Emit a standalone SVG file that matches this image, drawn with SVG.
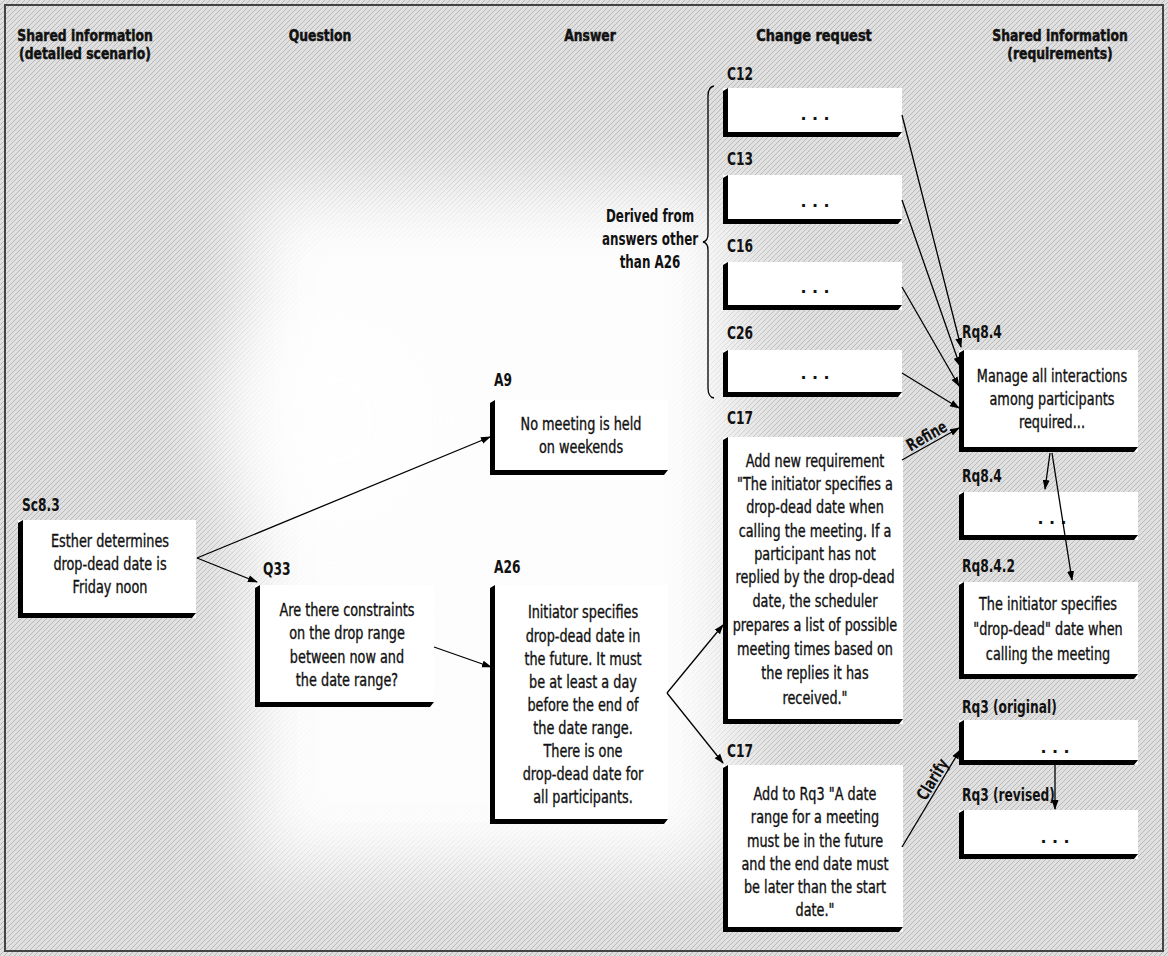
<svg xmlns="http://www.w3.org/2000/svg" width="1168" height="956" viewBox="0 0 1168 956">
<defs>
<pattern id="tex" width="5" height="5" patternUnits="userSpaceOnUse">
<rect width="5" height="5" fill="#e0e0e0"/>
<path d="M0,5 L5,0" stroke="#b4b4b4" stroke-width="0.9"/>
</pattern>
<filter id="blur" x="-50%" y="-50%" width="200%" height="200%"><feGaussianBlur stdDeviation="35"/></filter>
<marker id="ah" markerWidth="10" markerHeight="8" refX="9" refY="4" orient="auto" markerUnits="userSpaceOnUse"><path d="M0,0.5 L10,4 L0,7.5 Z" fill="#000"/></marker>
<style>
.t{font-family:"DejaVu Sans Condensed","DejaVu Sans","Liberation Sans",sans-serif;font-stretch:condensed;font-size:17px;fill:#111;stroke:#111;stroke-width:0.35;text-anchor:middle}
.lb{font-family:"DejaVu Sans Condensed","DejaVu Sans","Liberation Sans",sans-serif;font-stretch:condensed;font-weight:bold;font-size:17px;fill:#111}
.hd{font-family:"DejaVu Sans Condensed","DejaVu Sans","Liberation Sans",sans-serif;font-stretch:condensed;font-weight:bold;font-size:16px;fill:#111;stroke:#111;stroke-width:0.5;text-anchor:middle}
.dots{font-family:"Liberation Sans","DejaVu Sans",sans-serif;font-weight:bold;font-size:20px;fill:#111;text-anchor:middle;letter-spacing:6px}
.bx{fill:#fff}
.bd{fill:#000}
.cn{fill:none;stroke:#000;stroke-width:1.3}
</style>
</defs>
<rect width="1168" height="956" fill="url(#tex)"/>
<rect x="250" y="190" width="480" height="680" fill="#fff" opacity="0.95" filter="url(#blur)"/>
<ellipse cx="330" cy="420" rx="120" ry="120" fill="#fff" opacity="0.7" filter="url(#blur)"/>
<rect x="5" y="5" width="1158" height="946" fill="none" stroke="#444" stroke-width="2"/>

<g id="headers">
<text class="hd" transform="translate(85,41) scale(0.86,1)">Shared information</text>
<text class="hd" transform="translate(85,59) scale(0.86,1)">(detailed scenario)</text>
<text class="hd" transform="translate(320,41) scale(0.86,1)">Question</text>
<text class="hd" transform="translate(590,41) scale(0.86,1)">Answer</text>
<text class="hd" transform="translate(814,41) scale(0.9,1)">Change request</text>
<text class="hd" transform="translate(1060,41) scale(0.86,1)">Shared information</text>
<text class="hd" transform="translate(1060,59) scale(0.86,1)">(requirements)</text>
</g>

<g id="Sc8.3">
<rect class="bx" x="18" y="520" width="178" height="98"/>
<path class="bd" d="M18,523 L23,520 L23,613 L196,613 L192,618 L18,618 Z"/>
<text class="lb" transform="translate(22,511) scale(0.8,1)">Sc8.3</text>
<g transform="translate(110,0) scale(0.84,1)">
<text class="t" x="0" y="547">Esther determines</text>
<text class="t" x="0" y="570">drop-dead date is</text>
<text class="t" x="0" y="593">Friday noon</text>
</g>
</g>

<g id="Q33">
<rect class="bx" x="255" y="585" width="179" height="122"/>
<path class="bd" d="M255,588 L260,585 L260,702 L434,702 L430,707 L255,707 Z"/>
<text class="lb" transform="translate(263,575) scale(0.8,1)">Q33</text>
<g transform="translate(347,0) scale(0.84,1)">
<text class="t" x="0" y="616">Are there constraints</text>
<text class="t" x="0" y="639">on the drop range</text>
<text class="t" x="0" y="663">between now and</text>
<text class="t" x="0" y="686">the date range?</text>
</g>
</g>

<g id="A9">
<rect class="bx" x="490" y="400" width="178" height="75"/>
<path class="bd" d="M490,403 L495,400 L495,470 L668,470 L664,475 L490,475 Z"/>
<text class="lb" transform="translate(494,386) scale(0.8,1)">A9</text>
<g transform="translate(581,0) scale(0.84,1)">
<text class="t" x="0" y="430">No meeting is held</text>
<text class="t" x="0" y="453">on weekends</text>
</g>
</g>

<g id="A26">
<rect class="bx" x="490" y="585" width="178" height="239"/>
<path class="bd" d="M490,588 L495,585 L495,819 L668,819 L664,824 L490,824 Z"/>
<text class="lb" transform="translate(494,573) scale(0.8,1)">A26</text>
<g transform="translate(583,0) scale(0.84,1)">
<text class="t" x="0" y="618">Initiator specifies</text>
<text class="t" x="0" y="642">drop-dead date in</text>
<text class="t" x="0" y="665">the future. It must</text>
<text class="t" x="0" y="688">be at least a day</text>
<text class="t" x="0" y="711">before the end of</text>
<text class="t" x="0" y="734">the date range.</text>
<text class="t" x="0" y="757">There is one</text>
<text class="t" x="0" y="780">drop-dead date for</text>
<text class="t" x="0" y="803">all participants.</text>
</g>
</g>

<g id="C12">
<rect class="bx" x="723" y="88" width="179" height="49"/>
<path class="bd" d="M723,91 L728,88 L728,132 L902,132 L898,137 L723,137 Z"/>
<text class="lb" transform="translate(727,80) scale(0.8,1)">C12</text>
<text class="dots" x="818" y="120">...</text>
</g>

<g id="C13">
<rect class="bx" x="723" y="175" width="179" height="49"/>
<path class="bd" d="M723,178 L728,175 L728,219 L902,219 L898,224 L723,224 Z"/>
<text class="lb" transform="translate(727,165) scale(0.8,1)">C13</text>
<text class="dots" x="818" y="207">...</text>
</g>

<g id="C16">
<rect class="bx" x="723" y="262" width="179" height="48"/>
<path class="bd" d="M723,265 L728,262 L728,305 L902,305 L898,310 L723,310 Z"/>
<text class="lb" transform="translate(727,252) scale(0.8,1)">C16</text>
<text class="dots" x="818" y="293">...</text>
</g>

<g id="C26">
<rect class="bx" x="723" y="350" width="179" height="47"/>
<path class="bd" d="M723,353 L728,350 L728,392 L902,392 L898,397 L723,397 Z"/>
<text class="lb" transform="translate(727,339) scale(0.8,1)">C26</text>
<text class="dots" x="818" y="379">...</text>
</g>

<g id="derived">
<path class="cn" d="M714,86 Q708,87 708,96 L708,234 Q708,241 703,242 Q708,243 708,250 L708,388 Q708,397 714,398"/>
<g transform="translate(650,0) scale(0.78,1)">
<text class="lb" x="0" y="222" text-anchor="middle">Derived from</text>
<text class="lb" x="0" y="245" text-anchor="middle">answers other</text>
<text class="lb" x="0" y="268" text-anchor="middle">than A26</text>
</g>
</g>

<g id="C17a">
<rect class="bx" x="723" y="437" width="180" height="287"/>
<path class="bd" d="M723,440 L728,437 L728,719 L903,719 L899,724 L723,724 Z"/>
<text class="lb" transform="translate(727,424) scale(0.8,1)">C17</text>
<g transform="translate(815,0) scale(0.84,1)">
<text class="t" x="0" y="467">Add new requirement</text>
<text class="t" x="0" y="490">"The initiator specifies a</text>
<text class="t" x="0" y="513">drop-dead date when</text>
<text class="t" x="0" y="537">calling the meeting. If a</text>
<text class="t" x="0" y="560">participant  has not</text>
<text class="t" x="0" y="583">replied by the drop-dead</text>
<text class="t" x="0" y="607">date, the scheduler</text>
<text class="t" x="0" y="631">prepares a list of possible</text>
<text class="t" x="0" y="655">meeting times based on</text>
<text class="t" x="0" y="679">the replies it has</text>
<text class="t" x="0" y="704">received."</text>
</g>
</g>

<g id="C17b">
<rect class="bx" x="723" y="765" width="180" height="167"/>
<path class="bd" d="M723,768 L728,765 L728,927 L903,927 L899,932 L723,932 Z"/>
<text class="lb" transform="translate(727,757) scale(0.8,1)">C17</text>
<g transform="translate(815,0) scale(0.84,1)">
<text class="t" x="0" y="800">Add to Rq3 "A date</text>
<text class="t" x="0" y="823">range for a meeting</text>
<text class="t" x="0" y="847">must be in the future</text>
<text class="t" x="0" y="870">and the end date must</text>
<text class="t" x="0" y="893">be later than the start</text>
<text class="t" x="0" y="916">date."</text>
</g>
</g>

<g id="Rq8.4">
<rect class="bx" x="959" y="350" width="179" height="102"/>
<path class="bd" d="M959,353 L964,350 L964,447 L1138,447 L1134,452 L959,452 Z"/>
<text class="lb" transform="translate(962,338) scale(0.8,1)">Rq8.4</text>
<g transform="translate(1052,0) scale(0.84,1)">
<text class="t" x="0" y="382">Manage all interactions</text>
<text class="t" x="0" y="405">among participants</text>
<text class="t" x="0" y="428">required...</text>
</g>
</g>

<g id="Rq8.4b">
<rect class="bx" x="959" y="492" width="179" height="48"/>
<path class="bd" d="M959,495 L964,492 L964,535 L1138,535 L1134,540 L959,540 Z"/>
<text class="lb" transform="translate(962,482) scale(0.8,1)">Rq8.4</text>
<text class="dots" x="1055" y="524">...</text>
</g>

<g id="Rq8.4.2">
<rect class="bx" x="959" y="582" width="179" height="97"/>
<path class="bd" d="M959,585 L964,582 L964,674 L1138,674 L1134,679 L959,679 Z"/>
<text class="lb" transform="translate(962,572) scale(0.8,1)">Rq8.4.2</text>
<g transform="translate(1048,0) scale(0.84,1)">
<text class="t" x="0" y="610">The initiator specifies</text>
<text class="t" x="0" y="635">"drop-dead" date when</text>
<text class="t" x="0" y="660">calling the meeting</text>
</g>
</g>

<g id="Rq3o">
<rect class="bx" x="959" y="720" width="179" height="45"/>
<path class="bd" d="M959,723 L964,720 L964,760 L1138,760 L1134,765 L959,765 Z"/>
<text class="lb" transform="translate(962,713) scale(0.8,1)">Rq3 (original)</text>
<text class="dots" x="1058" y="753">...</text>
</g>

<g id="Rq3r">
<rect class="bx" x="959" y="810" width="179" height="49"/>
<path class="bd" d="M959,813 L964,810 L964,854 L1138,854 L1134,859 L959,859 Z"/>
<text class="lb" transform="translate(962,801) scale(0.8,1)">Rq3 (revised)</text>
<text class="dots" x="1058" y="843">...</text>
</g>

<g id="connectors">
<path class="cn" d="M197,558 L257,582" marker-end="url(#ah)"/>
<path class="cn" d="M197,558 L490,437" marker-end="url(#ah)"/>
<path class="cn" d="M434,647 L491,667" marker-end="url(#ah)"/>
<path class="cn" d="M667,693 L723,625" marker-end="url(#ah)"/>
<path class="cn" d="M667,693 L723,763" marker-end="url(#ah)"/>
<path class="cn" d="M902,115 L961,347" marker-end="url(#ah)"/>
<path class="cn" d="M902,200 L960,366" marker-end="url(#ah)"/>
<path class="cn" d="M902,287 L959,386" marker-end="url(#ah)"/>
<path class="cn" d="M902,373 L959,408" marker-end="url(#ah)"/>
<path class="cn" d="M902,460 L959,428" marker-end="url(#ah)"/>
<path class="cn" d="M1050,453 L1045,489" marker-end="url(#ah)"/>
<path class="cn" d="M1052,453 L1072,580" marker-end="url(#ah)"/>
<path class="cn" d="M902,847 L960,750" marker-end="url(#ah)"/>
<path class="cn" d="M1055,765 L1055,809" marker-end="url(#ah)"/>
<text class="lb" font-size="15" text-anchor="middle" transform="translate(929.5,440.9) rotate(-29.7) scale(0.8,1)">Refine</text>
<text class="lb" font-size="15" text-anchor="middle" transform="translate(937.4,782.4) rotate(-58.8) scale(0.8,1)">Clarify</text>
</g>
</svg>
